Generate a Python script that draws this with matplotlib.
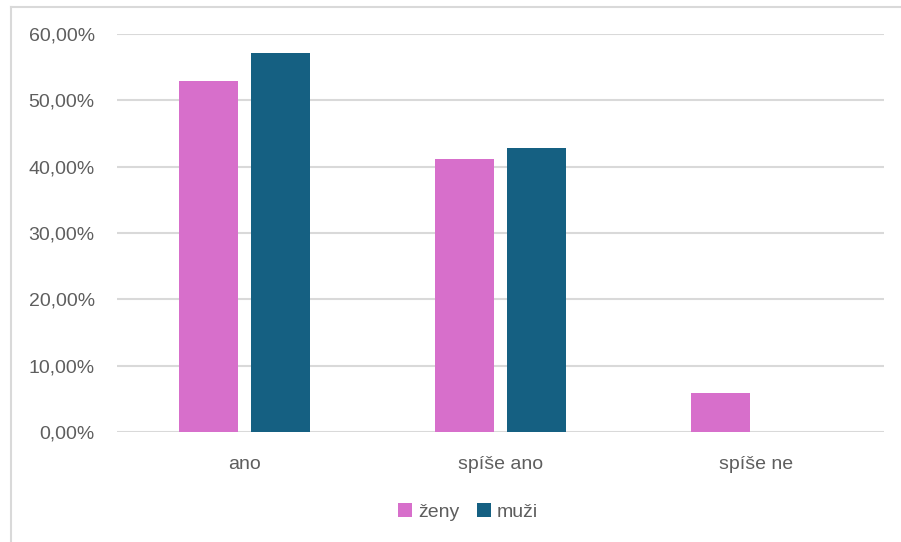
import matplotlib
matplotlib.use("Agg")
import matplotlib.pyplot as plt
import numpy as np
from matplotlib.ticker import FuncFormatter, MultipleLocator
from matplotlib.lines import Line2D
from matplotlib.patches import Patch

categories = ["ano", "spíše ano", "spíše ne"]
zeny = [0.5294, 0.4118, 0.0588]
muzi = [0.5714, 0.4286, 0.0]
series_names = ["ženy", "muži"]
colors = ["#D76FCB", "#156082"]

plt.rcParams["font.family"] = ["Liberation Sans", "DejaVu Sans"]
text_color = "#5E5E5E"
grid_color = "#D9D9D9"

fig = plt.figure(figsize=(9.01, 5.42), dpi=100)
ax = fig.add_axes([117 / 901, 1 - 432 / 542, (884 - 117) / 901, (432 - 34) / 542])

x = np.arange(len(categories))
width = 0.231
offset = 0.141
ax.bar(x - offset, zeny, width, color=colors[0], zorder=3)
ax.bar(x + offset, muzi, width, color=colors[1], zorder=3)

ax.set_xlim(-0.5, len(categories) - 0.5)
ax.set_ylim(0, 0.6)
ax.yaxis.set_major_locator(MultipleLocator(0.1))
ax.yaxis.set_major_formatter(
    FuncFormatter(lambda v, _: f"{v * 100:.2f}".replace(".", ",") + "%"))
ax.set_xticks(x)
ax.set_xticklabels(categories)

ax.grid(axis="y", color=grid_color, linewidth=1.5, zorder=0)
for s in ax.spines.values():
    s.set_visible(False)
ax.tick_params(axis="both", length=0, labelsize=14, colors=text_color)
ax.tick_params(axis="y", pad=16)
ax.tick_params(axis="x", pad=17)

handles = [Patch(facecolor=c, edgecolor="none") for c in colors]
fig.legend(handles, series_names, loc="center", bbox_to_anchor=(468 / 901, 1 - 512 / 542),
           ncol=2, frameon=False, fontsize=14, labelcolor=text_color,
           handlelength=0.75, handleheight=0.75, handletextpad=0.3, columnspacing=0.9)

# chart-area border
fig.add_artist(Line2D([11 / 901, 11 / 901], [0, 1 - 7 / 542], color=grid_color,
                      linewidth=1.5, transform=fig.transFigure))
fig.add_artist(Line2D([11 / 901, 1], [1 - 7 / 542, 1 - 7 / 542], color=grid_color,
                      linewidth=1.5, transform=fig.transFigure))

fig.savefig("out.png", dpi=100)
